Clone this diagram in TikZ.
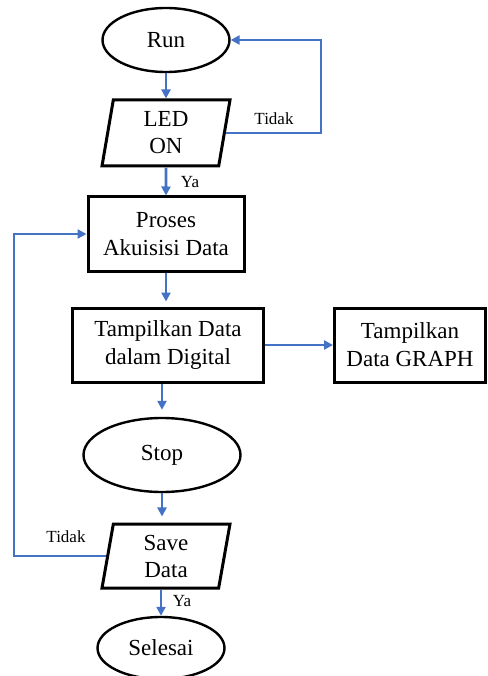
\documentclass[tikz,border=0pt]{standalone}
\usepackage{fontspec}
\setmainfont{Liberation Serif}
\usetikzlibrary{shapes.geometric,arrows.meta}
\definecolor{lineblue}{RGB}{68,114,196}

\begin{document}
\begin{tikzpicture}[x=1pt,y=-1pt]
          \tikzstyle{term} = [ellipse, draw, line width=2.4pt, minimum width=127pt, minimum height=64pt, font=\fontsize{23}{28}\selectfont]
          \tikzstyle{proc} = [rectangle, draw, line width=3pt, minimum height=74pt, align=center, font=\fontsize{23}{28}\selectfont]
          \tikzstyle{io} = [trapezium, trapezium left angle=77, trapezium right angle=103, trapezium stretches body, draw, line width=3pt, minimum width=128pt, minimum height=66pt, align=center, font=\fontsize{23}{27}\selectfont]
          \tikzstyle{flow} = [draw=lineblue, line width=2.7pt, -{Triangle[length=9pt,width=9pt]}]
          \tikzstyle{lbl} = [font=\fontsize{17}{19}\selectfont]
        \useasboundingbox (0,0) rectangle (487,676);
        \node[term] (1) at (166,40) {Run};
        \node[io] (2) at (166,133) {LED\\ON};
        \node[proc, minimum width=156pt] (3) at (166,234) {Proses\\Akuisisi Data};
        \node[proc, minimum width=191pt] (4) at (168,345) {Tampilkan Data\\dalam Digital};
        \node[proc, minimum width=151pt] (5) at (410,345) {Tampilkan\\Data GRAPH};
        \node[term, minimum width=157pt, minimum height=74pt] (6) at (162,455) {Stop};
        \node[io, minimum height=64pt] (7) at (166,556) {Save\\Data};
        \node[term, minimum height=62pt] (8) at (161,648) {Selesai};
        \node[lbl] (t1) at (274,119) {Tidak};
        \node[lbl] (y1) at (190,182) {Ya};
        \node[lbl] (t2) at (66,537) {Tidak};
        \node[lbl] (y2) at (182,601) {Ya};
        \begin{scope}
          \draw[flow] (1) -- (2);
          \draw[flow] (2.east) -- ++(95,0) |- (1.east);
          \draw[flow] (2) -- (3);
          \draw[flow, shorten >=5pt] (3) -- (3.south |- 4.north);
          \draw[flow] (4) -- (5);
          \draw[flow, shorten >=7pt] (4.south -| 6.north) -- (6.north);
          \draw[flow, shorten >=6pt] (6.south) -- (6.south |- 7.north);
          \draw[flow] (7.west) -- ++(-92,0) |- (3.west);
          \draw[flow] (7.south -| 8.north) -- (8.north);
        \end{scope}
      \end{tikzpicture}
\end{document}
